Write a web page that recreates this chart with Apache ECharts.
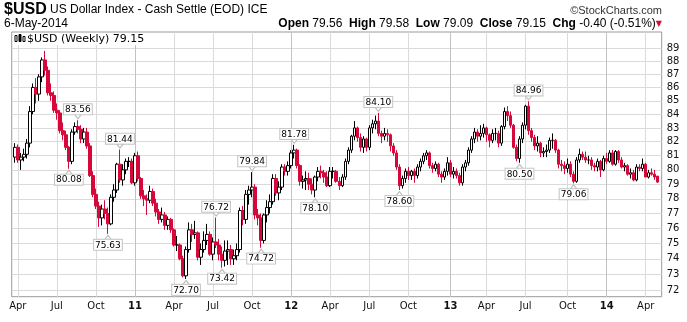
<!DOCTYPE html>
<html><head><meta charset="utf-8">
<script src="https://cdn.jsdelivr.net/npm/echarts@6/dist/echarts.min.js"></script>
<style>html,body{margin:0;padding:0;background:#fff}#c{width:687px;height:322px}</style>
</head><body><div id="c"></div>
<script>
// Weekly $USD candles, first week starting Monday 2010-03-29
const startWeek = [2010, 2, 29];
const weekOpen = [80.9,81.6,80.7,80.9,81.1,81.9,84.2,86.0,85.5,86.8,88.1,87.3,85.6,85.4,84.3,84.1,82.8,82.5,81.6,80.6,
82.7,83.1,82.9,82.2,82.7,81.7,79.6,78.3,77.5,76.7,77.3,77.0,76.3,78.1,78.6,80.4,79.3,80.0,80.6,80.6,
79.1,81.0,79.4,78.2,78.0,77.9,78.5,77.7,77.1,76.6,76.9,76.2,76.6,75.9,74.9,74.9,74.0,72.9,74.6,75.9,
75.6,75.7,74.1,74.6,75.2,75.6,74.3,75.1,74.9,74.3,73.9,74.5,74.6,74.0,74.2,74.6,77.2,76.6,78.3,78.6,
78.8,76.9,76.7,75.2,76.9,77.4,77.8,79.4,78.4,78.8,80.2,79.9,80.3,81.2,81.4,80.3,79.2,79.3,79.4,79.0,
78.6,79.5,79.9,79.8,79.5,78.9,79.9,79.9,79.2,78.9,79.5,80.6,81.4,82.4,83.0,82.3,81.6,82.2,81.6,83.0,
83.3,83.5,82.6,82.4,82.6,82.5,81.7,81.2,80.2,78.9,79.4,79.9,79.6,79.9,79.6,80.2,80.6,81.0,81.2,80.3,
80.1,80.4,79.7,79.5,79.9,80.5,79.7,79.9,79.6,79.1,80.2,80.5,81.4,82.2,82.7,82.4,82.6,83.0,82.5,82.1,
82.6,82.6,81.9,83.1,84.2,83.9,83.2,81.6,80.8,82.2,83.2,84.6,82.8,82.3,81.7,81.9,81.2,81.3,81.4,82.1,
82.1,81.4,80.4,80.3,80.1,80.4,79.7,79.2,80.7,81.1,80.9,80.7,80.7,80.3,80.2,80.6,80.0,80.8,80.6,81.2,
80.4,81.3,80.7,80.2,80.3,79.7,79.8,79.3,80.2,80.1,80.4,79.5,79.8,79.7,79.56];
const weekHigh = [81.9,81.8,81.2,81.5,82.2,84.6,86.3,86.7,87.0,88.3,88.8,87.6,86.3,85.7,84.8,84.3,83.4,82.8,81.7,82.9,
83.4,83.56,83.2,83.0,83.0,81.9,79.9,78.7,77.8,77.6,77.9,77.4,78.3,79.0,80.5,81.44,80.4,80.8,80.9,80.8,
81.2,81.3,79.5,78.6,78.3,78.9,78.7,78.0,77.3,77.4,77.1,76.8,76.7,76.0,75.5,75.0,74.2,74.8,76.4,76.3,
76.5,75.8,75.0,75.8,76.3,75.8,75.4,76.72,75.3,74.8,75.2,75.2,74.9,74.6,75.0,77.4,77.5,78.6,78.9,79.84,
79.0,77.3,77.0,77.0,77.9,78.3,79.7,79.7,79.2,80.4,80.4,80.6,81.4,81.78,81.5,80.4,79.6,79.9,79.8,79.4,
79.6,80.2,80.3,80.0,79.9,80.2,80.2,80.0,79.5,79.7,80.8,81.6,82.5,83.5,83.1,82.6,82.4,82.3,83.2,83.6,
83.9,84.10,82.8,83.0,82.9,82.6,81.9,81.4,80.4,79.6,80.1,80.2,80.0,80.1,80.4,80.8,81.2,81.4,81.3,80.5,
80.6,80.5,79.9,80.1,80.9,80.7,80.2,80.1,79.8,80.4,80.7,81.6,82.4,83.0,82.9,83.2,83.3,83.1,82.6,82.9,
83.0,82.8,83.2,84.5,84.6,84.2,83.3,81.8,82.4,83.4,84.7,84.96,83.0,82.5,82.4,82.0,81.6,81.8,82.3,82.6,
82.2,81.5,80.7,80.6,80.8,80.6,79.9,80.9,81.5,81.3,81.3,81.0,80.9,80.5,80.8,80.7,81.0,81.2,81.4,81.4,
81.4,81.4,80.9,80.5,80.4,80.1,80.0,80.4,80.4,80.8,80.5,80.0,80.1,80.0,79.58];
const weekLow = [80.5,80.5,80.0,80.6,80.8,81.6,84.0,84.8,85.0,86.4,86.9,85.4,85.0,84.1,83.6,82.6,82.1,81.4,80.08,80.4,
82.5,82.6,81.9,81.9,81.5,79.5,78.1,77.3,76.1,76.2,76.6,75.63,76.2,77.8,78.4,79.1,78.9,79.7,80.2,79.0,
78.9,79.2,78.0,77.5,76.9,77.7,77.5,76.8,76.3,76.4,75.9,75.9,75.7,74.8,74.5,73.9,72.8,72.70,74.4,75.1,
75.3,73.9,73.6,74.4,74.9,74.2,73.9,74.7,73.9,73.42,73.5,73.6,73.6,73.6,73.9,74.4,76.2,76.3,77.6,78.1,
76.6,76.2,74.72,75.0,76.4,77.0,77.6,78.2,77.9,78.6,79.6,79.6,80.1,80.8,80.1,78.9,78.7,78.6,78.6,78.3,
78.10,79.2,79.4,79.1,78.8,78.8,79.4,79.1,78.6,78.8,79.3,80.4,81.2,82.1,82.0,81.3,81.2,81.3,81.4,82.6,
82.9,82.4,81.9,82.1,82.0,81.3,81.0,80.0,78.60,78.7,79.1,79.3,79.3,79.1,79.4,79.9,80.4,80.7,80.1,79.8,
79.9,79.5,79.1,79.3,79.6,79.5,79.4,79.4,78.9,78.9,79.9,80.3,81.2,81.9,82.0,82.1,82.3,82.0,81.6,81.9,
82.1,81.6,81.7,82.9,83.5,83.0,81.5,80.6,80.50,81.9,82.9,82.5,82.0,81.4,81.3,80.9,80.9,80.9,81.2,81.5,
81.2,80.1,79.9,79.7,79.8,79.5,79.06,79.1,80.5,80.7,80.5,80.4,80.0,79.9,79.9,79.5,79.9,80.4,80.5,80.3,
80.3,80.5,80.1,79.9,79.6,79.4,79.2,79.2,79.9,79.9,79.5,79.4,79.6,79.3,79.09];
const weekClose = [81.6,80.7,80.9,81.1,81.9,84.2,86.0,85.5,86.8,88.1,87.3,85.6,85.4,84.3,84.1,82.8,82.5,81.6,80.6,82.7,
83.1,82.9,82.2,82.7,81.7,79.6,78.3,77.5,76.7,77.3,77.0,76.3,78.1,78.6,80.4,79.3,80.0,80.6,80.6,79.1,
81.0,79.4,78.2,78.0,77.9,78.5,77.7,77.1,76.6,76.9,76.2,76.6,75.9,74.9,74.9,74.0,72.9,74.6,75.9,75.6,
75.7,74.1,74.6,75.2,75.6,74.3,75.1,74.9,74.3,73.9,74.5,74.6,74.0,74.2,74.6,77.2,76.6,78.3,78.6,78.8,
76.9,76.7,75.2,76.9,77.4,77.8,79.4,78.4,78.8,80.2,79.9,80.3,81.2,81.4,80.3,79.2,79.3,79.4,79.0,78.6,
79.5,79.9,79.8,79.5,78.9,79.9,79.9,79.2,78.9,79.5,80.6,81.4,82.4,83.0,82.3,81.6,82.2,81.6,83.0,83.3,
83.5,82.6,82.4,82.6,82.5,81.7,81.2,80.2,78.9,79.4,79.9,79.6,79.9,79.6,80.2,80.6,81.0,81.2,80.3,80.1,
80.4,79.7,79.5,79.9,80.5,79.7,79.9,79.6,79.1,80.2,80.5,81.4,82.2,82.7,82.4,82.6,83.0,82.5,82.1,82.6,
82.6,81.9,83.1,84.2,83.9,83.2,81.6,80.8,82.2,83.2,84.6,82.8,82.3,81.7,81.9,81.2,81.3,81.4,82.1,82.1,
81.4,80.4,80.3,80.1,80.4,79.7,79.2,80.7,81.1,80.9,80.7,80.7,80.3,80.2,80.6,80.0,80.8,80.6,81.2,80.4,
81.3,80.7,80.2,80.3,79.7,79.8,79.3,80.2,80.1,80.4,79.5,79.8,79.7,79.5,79.15];
// tick labels on the price scale
const priceTicks = [72,73,74,75,76,77,78,79,80,81,82,83,84,85,86,87,88,89];
// labelled extremes: week index and whether the high or the low is marked
const noteWeeks = [18,21,31,35,57,67,69,79,82,93,100,121,128,168,171,186];
const noteKinds = ['low','high','low','high','low','high','low','high','low','high','low','high','low','low','high','low'];
const monthNames = ['Jan','Feb','Mar','Apr','May','Jun','Jul','Aug','Sep','Oct','Nov','Dec'];

const N = weekClose.length;
const t0 = Date.UTC(startWeek[0], startWeek[1], startWeek[2]);
const weekDate = i => new Date(t0 + i * 7 * 86400000);
const quarterIdx = [], yearIdx = [], tickText = {};
for (let i = 1; i < N; i++) {
  const m = weekDate(i).getUTCMonth(), pm = weekDate(i - 1).getUTCMonth();
  if (m % 3 === 0 && m !== pm) {
    quarterIdx.push(i);
    if (m === 0) { yearIdx.push(i); tickText[i] = '{b|' + String(weekDate(i).getUTCFullYear() % 100).padStart(2, '0') + '}'; }
    else tickText[i] = monthNames[m];
  }
}
const L = Math.log;
const candles = weekClose.map((c, i) => [i, L(weekOpen[i]), L(c), L(weekLow[i]), L(weekHigh[i])]);
const yTickLn = priceTicks.map(v => L(v));
const RED = '#d6073a';
const xMin = -1.03, xMax = 215.33;
const yMin = 4.270789, yMax = 4.502982;

const notes = noteWeeks.map((w, k) => {
  const hi = noteKinds[k] === 'high';
  const v = hi ? weekHigh[w] : weekLow[w];
  return {
    coord: [w, L(v)],
    symbol: 'triangle',
    symbolSize: [8, 5],
    symbolRotate: hi ? 180 : 0,
    symbolOffset: [0, hi ? -4 : 4],
    itemStyle: { color: '#fff', borderColor: '#bdbdbd', borderWidth: 1 },
    label: {
      show: true, position: hi ? 'top' : 'bottom', distance: -1,
      formatter: v.toFixed(2), color: '#000', fontFamily: 'DejaVu Sans', fontSize: 9,
      backgroundColor: '#fff', borderColor: '#c4c4c4', borderWidth: 1, padding: [1, 1, 0, 1]
    }
  };
});

const chart = echarts.init(document.getElementById('c'), null, { renderer: 'canvas' });
chart.setOption({
  animation: false,
  backgroundColor: '#fff',
  grid: { left: 11.7, right: 25.3, top: 32, bottom: 25.3, show: true, borderColor: '#9a9a9a', borderWidth: 1, backgroundColor: '#fff' },
  xAxis: [{
    type: 'value', min: xMin, max: xMax,
    axisLine: { show: false }, axisTick: { show: false, customValues: quarterIdx },
    axisLabel: { customValues: quarterIdx, formatter: v => tickText[Math.round(v)] || '', margin: 5,
      color: '#111', fontFamily: 'DejaVu Sans', fontSize: 10,
      rich: { b: { fontWeight: 'bold', fontFamily: 'DejaVu Sans', fontSize: 10, color: '#111' } } },
    splitLine: { show: true, lineStyle: { color: '#dadada', width: 1 } }
  }, {
    type: 'value', min: xMin, max: xMax, position: 'bottom',
    axisLine: { show: false }, axisTick: { show: false, customValues: yearIdx },
    axisLabel: { show: false, customValues: yearIdx },
    splitLine: { show: true, lineStyle: { color: '#c2c2c2', width: 1 } }
  }],
  yAxis: {
    type: 'value', position: 'right', min: yMin, max: yMax,
    axisLine: { show: false }, axisTick: { show: false, customValues: yTickLn },
    axisLabel: { customValues: yTickLn, formatter: v => String(Math.round(Math.exp(v))), margin: 5,
      color: '#111', fontFamily: 'DejaVu Sans', fontSize: 10 },
    splitLine: { show: true, lineStyle: { color: '#dadada', width: 1 } }
  },
  series: [{
    type: 'candlestick',
    xAxisIndex: 0,
    encode: { x: 0, y: [1, 2, 3, 4] },
    data: candles,
    barWidth: 3,
    itemStyle: { color: '#fff', color0: RED, borderColor: '#000', borderColor0: RED, borderWidth: 1 },
    markPoint: { silent: true, animation: false, data: notes }
  }],
  graphic: [
    { type: 'text', x: 4, y: 10, style: { text: '{a|$USD} {b|US Dollar Index - Cash Settle (EOD) ICE}', verticalAlign: 'middle',
      rich: { a: { fontFamily: 'Liberation Sans Narrow, Liberation Sans', fontWeight: 'bold', fontSize: 16, fill: '#000' },
              b: { fontFamily: 'Liberation Sans Narrow, Liberation Sans', fontSize: 12, fill: '#000' } } } },
    { type: 'text', x: 662, y: 11, style: { text: '©StockCharts.com', align: 'right', verticalAlign: 'middle',
      fontFamily: 'Liberation Sans Narrow, Liberation Sans', fontSize: 11, fill: '#333' } },
    { type: 'text', x: 4, y: 24, style: { text: '6-May-2014', verticalAlign: 'middle',
      fontFamily: 'Liberation Sans Narrow, Liberation Sans', fontSize: 12, fill: '#000' } },
    { type: 'text', x: 662, y: 24, style: {
      text: '{k|Open} {v|79.56}  {k|High} {v|79.58}  {k|Low} {v|79.09}  {k|Close} {v|79.15}  {k|Chg} {v|-0.40 (-0.51%)}{r|▼}',
      align: 'right', verticalAlign: 'middle',
      rich: { k: { fontFamily: 'Liberation Sans Narrow, Liberation Sans', fontWeight: 'bold', fontSize: 12, fill: '#000' },
              v: { fontFamily: 'Liberation Sans Narrow, Liberation Sans', fontSize: 12, fill: '#000' },
              r: { fontFamily: 'DejaVu Sans', fontSize: 8, fill: RED } } } },
    { type: 'rect', shape: { x: 13, y: 33, width: 130, height: 12 }, style: { fill: '#fff' }, z: 50 },
    { type: 'rect', shape: { x: 15, y: 35.5, width: 2, height: 6 }, style: { fill: '#fff', stroke: '#000', lineWidth: 1 }, z: 51 },
    { type: 'rect', shape: { x: 19, y: 34.5, width: 2, height: 7 }, style: { fill: '#000', stroke: '#000', lineWidth: 1 }, z: 51 },
    { type: 'rect', shape: { x: 23, y: 36.5, width: 2, height: 5 }, style: { fill: '#fff', stroke: '#000', lineWidth: 1 }, z: 51 },
    { type: 'text', x: 27, y: 39.5, z: 52, style: { text: '$USD (Weekly) 79.15', verticalAlign: 'middle',
      fontFamily: 'DejaVu Sans', fontSize: 11, fill: '#000' } }
  ]
});
</script></body></html>
